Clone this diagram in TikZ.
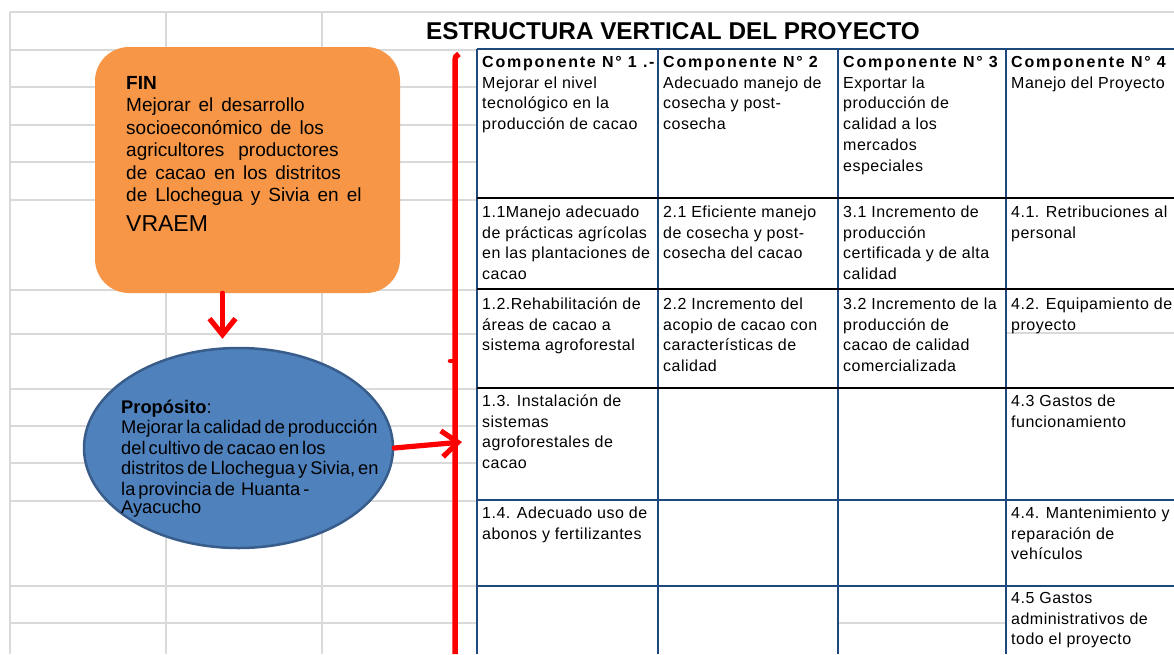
\documentclass[tikz,border=0pt]{standalone}
\usepackage{fontspec}
\setmainfont{Liberation Sans}
\newfontfamily\cellfam[LetterSpace=3]{Liberation Sans}
\newfontfamily\hdrfam[LetterSpace=11]{Liberation Sans}
\newfontfamily\propfam[WordSpace=0.6]{Liberation Sans}
\usetikzlibrary{shapes.geometric,arrows.meta,calc}
\definecolor{gridgray}{HTML}{D9D9D9}
\definecolor{tblue}{HTML}{1F497D}
\definecolor{finorange}{HTML}{F79646}
\definecolor{ellfill}{HTML}{4F81BD}
\definecolor{elldraw}{HTML}{385D8A}
\tikzset{
  gridln/.style={draw=gridgray, line width=1.2pt},
  tblblue/.style={draw=tblue, line width=2.7pt},
  tblblack/.style={draw=black, line width=2.4pt},
  finbox/.style={rectangle, rounded corners=34pt, fill=finorange, minimum width=305pt, minimum height=246pt, inner sep=0pt},
  propell/.style={ellipse, fill=ellfill, draw=elldraw, line width=2.5pt, minimum width=309pt, minimum height=200pt, inner sep=0pt},
  fintext/.style={anchor=north west, inner sep=0pt, align=left, font=\fontsize{19}{22.5}\selectfont},
  proptext/.style={anchor=north west, inner sep=0pt, align=left, font=\propfam\fontsize{18.3}{20.5}\selectfont},
  cell/.style={anchor=north west, inner sep=0pt, align=left, font=\cellfam\fontsize{16}{20.8}\selectfont},
  redarrow/.style={draw=red, line width=5.2pt, line cap=round, -{Straight Barb[length=16pt,width=26pt]}},
  bracel/.style={draw=red, line width=5.5pt},
}
% first-line strut: node top lies 15pt above the first baseline
\newcommand{\fl}{\rule{0pt}{15pt}}
\newcommand{\w}{\hspace{8pt}}
\newcommand{\hdr}[1]{{\hdrfam\bfseries\fontsize{16}{20.8}\selectfont #1}}
\begin{document}
\begin{tikzpicture}[x=1pt,y=-1pt]
\useasboundingbox (0,0) rectangle (1174,654);
\fill[white] (0,0) rectangle (1174,654);
% spreadsheet grid
\draw[gridln] (10,12) -- (1174,12);
\foreach \yy in {50,87,125,162,200,290,334,389,426,463,501,586,623}
  \draw[gridln] (10,\yy) -- (477,\yy);
\foreach \xx in {10,166,322}
  \draw[gridln] (\xx,12) -- (\xx,654);
\draw[gridln] (1006,333) -- (1174,333);
\draw[gridln] (838,623) -- (1006,623);
% title
\node[anchor=base, inner sep=0pt, font=\bfseries\fontsize{24.3}{28}\selectfont] (title) at (673,39) {ESTRUCTURA VERTICAL DEL PROYECTO};
% table
\draw[tblblue] (477,49) -- (1174,49);
\draw[tblblue] (477,500) -- (1174,500);
\draw[tblblue] (477,586) -- (1174,586);
\foreach \xx in {477,658,838,1006}
  \draw[tblblue] (\xx,49) -- (\xx,654);
\foreach \yy in {198,289,388}
  \draw[tblblack] (477,\yy) -- (1174,\yy);
% column 1 (y = first baseline - 15)
\node[cell] (c11) at (482,52) {\fl\hdr{Componente N° 1 .-}\\Mejorar el nivel\\tecnológico en la\\producción de cacao};
\node[cell] (c12) at (482,202) {\fl 1.1Manejo adecuado\\de prácticas agrícolas\\en las plantaciones de\\cacao};
\node[cell] (c13) at (482,294) {\fl 1.2.Rehabilitación de\\áreas de cacao a\\sistema agroforestal};
\node[cell] (c14) at (482,391) {\fl 1.3. Instalación de\\sistemas\\agroforestales de\\cacao};
\node[cell] (c15) at (482,503) {\fl 1.4. Adecuado uso de\\abonos y fertilizantes};
% column 2
\node[cell] (c21) at (663,52) {\fl\hdr{Componente N° 2}\\Adecuado manejo de\\cosecha y post-\\cosecha};
\node[cell] (c22) at (663,202) {\fl 2.1 Eficiente manejo\\de cosecha y post-\\cosecha del cacao};
\node[cell] (c23) at (663,294) {\fl 2.2 Incremento del\\acopio de cacao con\\características de\\calidad};
% column 3
\node[cell] (c31) at (843,52) {\fl\hdr{Componente N° 3}\\Exportar la\\producción de\\calidad a los\\mercados\\especiales};
\node[cell] (c32) at (843,202) {\fl 3.1 Incremento de\\producción\\certificada y de alta\\calidad};
\node[cell] (c33) at (843,294) {\fl 3.2 Incremento de la\\producción de\\cacao de calidad\\comercializada};
% column 4
\node[cell] (c41) at (1011,52) {\fl\hdr{Componente N° 4}\\Manejo del Proyecto};
\node[cell] (c42) at (1011,202) {\fl 4.1. Retribuciones al\\personal};
\node[cell] (c43) at (1011,294) {\fl 4.2. Equipamiento de\\proyecto};
\node[cell] (c44) at (1011,391) {\fl 4.3 Gastos de\\funcionamiento};
\node[cell] (c45) at (1011,503) {\fl 4.4. Mantenimiento y\\reparación de\\vehículos};
\node[cell] (c46) at (1011,588) {\fl 4.5 Gastos\\administrativos de\\todo el proyecto};
% FIN box
\node[finbox] (fin) at (247.5,170) {};
\node[fintext] (fint) at (126,74) {\fl\textbf{FIN}\\Mejorar\w el\w desarrollo\\socioeconómico\w de\w los\\agricultores\hspace{14pt}productores\\de\w cacao\w en\w los\w distritos\\de\w Llochegua\w y\w Sivia\w en\w el\\[7.5pt]\fontsize{23}{26}\selectfont VRAEM};
% Proposito ellipse
\node[propell] (prop) at (238.5,448) {};
\node[proptext] (propt) at (121,398) {\fl\textbf{Propósito}:\\Mejorar la calidad de producción\\del cultivo de cacao en los\\distritos de Llochegua y Sivia, en\\la provincia de \ Huanta -\\[-2.5pt]Ayacucho};
% red brace
\draw[bracel] (455,654) -- (455,62) .. controls (455,57) and (456,55) .. (459,54);
\draw[draw=red, line width=4.5pt, line cap=round] (455,361) -- (450,361);
\coordinate (btip) at (462,442);
% arrows
\draw[redarrow] ([xshift=-25pt]fin.south) -- ([xshift=-16pt,yshift=8pt]prop.north);
\draw[redarrow] (prop.east) -- (btip);
\end{tikzpicture}
\end{document}
